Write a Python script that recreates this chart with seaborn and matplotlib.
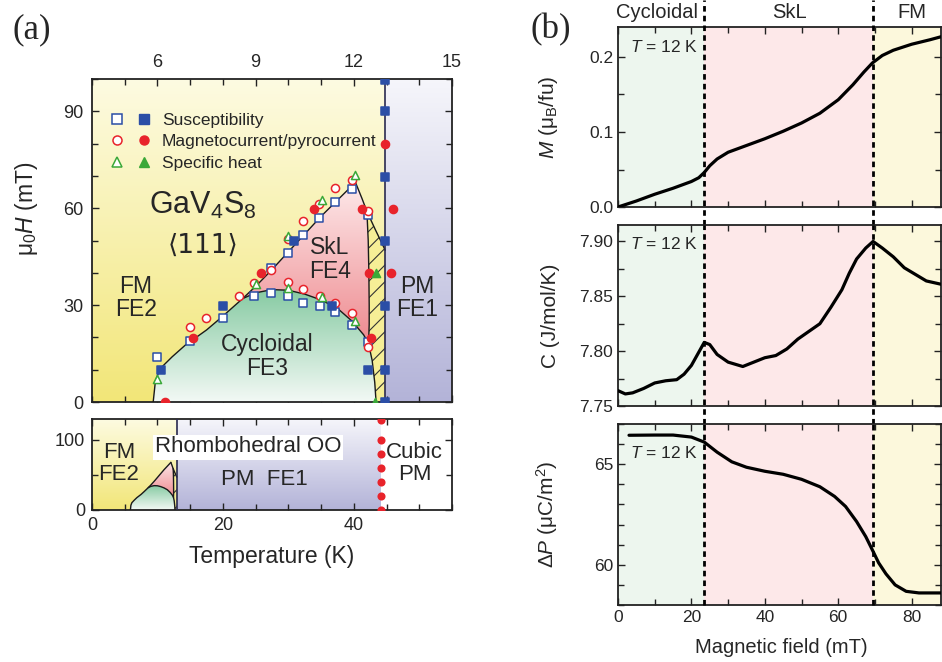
import numpy as np
import matplotlib
matplotlib.use('Agg')
import matplotlib.pyplot as plt
import seaborn as sns
from matplotlib.patches import Polygon
from matplotlib.colors import LinearSegmentedColormap
from matplotlib.lines import Line2D
from matplotlib.legend_handler import HandlerTuple
from matplotlib.ticker import MultipleLocator

sns.set_theme(style='ticks')
plt.rcParams['font.family'] = ['Liberation Sans', 'DejaVu Sans']
plt.rcParams['mathtext.fontset'] = 'custom'
plt.rcParams['mathtext.rm'] = 'Liberation Sans'
plt.rcParams['mathtext.it'] = 'Liberation Sans:italic'
plt.rcParams['mathtext.bf'] = 'Liberation Sans:bold'
plt.rcParams['hatch.linewidth'] = 0.8

# ---------------- data: panel (a) phase boundaries ----------------
cyc_T = [5.87, 5.94, 6.09, 6.45, 6.85, 7.5, 8.0, 8.6, 9.0, 9.5, 10.0, 10.5, 11.0, 11.5, 11.95, 12.3, 12.45, 12.56, 12.64, 12.68]
cyc_H = [0.0, 6.7, 10.4, 14.0, 17.6, 22.3, 26.6, 32.0, 33.8, 34.8, 34.6, 33.4, 31.6, 29.0, 25.0, 20.8, 18.0, 12.9, 6.0, 0.0]
skl_top_T = [8.6, 9.0, 9.5, 10.0, 10.5, 11.0, 11.5, 12.05]
skl_top_H = [32.0, 35.8, 41.0, 46.5, 52.0, 57.5, 62.5, 68.0]
skl_right_T = [12.05, 12.25, 12.40, 12.44, 12.46, 12.47, 12.47, 12.45]
skl_right_H = [68.0, 63.0, 59.0, 50.0, 40.0, 30.0, 24.0, 18.0]
hatch_T = [12.40, 12.66, 12.96]
hatch_H = [59.0, 53.3, 47.0]
T_pm = 12.96
T_cubic = 44.2

# ---------------- data: panel (a) markers ----------------
sus_open_T = [6.0, 6.99, 8.0, 8.96, 9.47, 9.98, 9.47, 9.98, 10.45, 10.94, 11.44, 11.95, 10.45, 10.96, 11.44, 11.95, 12.44, 12.44]
sus_open_H = [13.8, 18.8, 25.9, 32.8, 33.6, 32.8, 41.6, 46.0, 51.7, 56.9, 61.8, 65.9, 30.7, 29.7, 27.9, 23.8, 18.6, 57.9]
sus_fill_T = [6.1, 8.0, 10.18, 11.34, 12.44, 12.94, 12.94, 12.94, 12.94, 12.94, 12.94, 12.94]
sus_fill_H = [9.8, 29.8, 49.9, 29.8, 9.8, 99.8, 90.0, 69.8, 49.9, 29.8, 9.8, 0.0]
mc_open_T = [6.99, 7.48, 8.49, 8.96, 9.47, 9.98, 10.45, 10.94, 11.44, 11.95, 9.98, 10.45, 10.96, 11.44, 11.95, 12.44, 12.44]
mc_open_H = [23.1, 25.9, 32.9, 36.9, 40.9, 50.4, 55.9, 61.2, 66.2, 68.8, 37.0, 34.9, 32.9, 30.5, 27.6, 17.1, 59.0]
mc_fill_T = [6.23, 7.09, 9.17, 10.79, 12.25, 12.46, 12.51, 12.94, 13.19, 13.14]
mc_fill_H = [0.0, 19.9, 39.8, 59.7, 59.7, 39.8, 19.9, 79.9, 59.7, 39.8]
sh_open_T = [6.0, 9.02, 10.0, 10.0, 11.04, 11.04, 12.03, 12.03]
sh_open_H = [7.2, 36.4, 51.4, 35.2, 62.6, 32.6, 70.3, 25.0]
sh_fill_T = [12.69, 12.66]
sh_fill_H = [40.0, 0.0]
cubic_H = [0, 20, 40, 60, 80, 100, 128]

# ---------------- data: panel (b) ----------------
Hc1, Hc2 = 23.5, 69.4
M_H = [0, 5, 10, 15, 20, 22, 23.5, 25, 27, 30, 35, 40, 45, 50, 55, 60, 64, 67, 69.3, 72, 75, 80, 85, 88]
M_val = [0.0, 0.008, 0.017, 0.025, 0.034, 0.039, 0.046, 0.055, 0.064, 0.073, 0.082, 0.091, 0.101, 0.112, 0.125, 0.143, 0.163, 0.180, 0.192, 0.202, 0.209, 0.217, 0.223, 0.227]
C_H = [0, 2, 4, 7, 10, 13, 16, 18, 20, 22, 23.5, 25, 27, 30, 34, 37, 40, 43, 46, 49, 52, 55, 58, 61, 63, 65, 67.5, 69.5, 72, 75, 78, 81, 84, 88]
C_val = [7.764, 7.761, 7.762, 7.766, 7.771, 7.773, 7.774, 7.779, 7.787, 7.799, 7.808, 7.806, 7.797, 7.790, 7.786, 7.790, 7.794, 7.796, 7.802, 7.811, 7.818, 7.825, 7.840, 7.856, 7.871, 7.884, 7.894, 7.900, 7.894, 7.886, 7.876, 7.870, 7.864, 7.861]
P_H = [3, 10, 15, 20, 23.5, 27, 31, 35, 40, 45, 50, 55, 59, 62, 65, 67.5, 69.4, 71, 73, 75.5, 78.5, 82, 88]
P_val = [66.44, 66.45, 66.45, 66.35, 66.10, 65.6, 65.12, 64.85, 64.65, 64.5, 64.25, 63.88, 63.4, 62.9, 62.15, 61.4, 60.7, 60.1, 59.55, 59.0, 58.68, 58.6, 58.6]

BLUE = '#2b4ea6'
RED = '#e8232b'
GREEN = '#3aa838'
EDGE = '#222222'

W, HH = 942, 662
fig = plt.figure(figsize=(W / 100, HH / 100), dpi=100)


def rect(l, t, r, b):
    return [l / W, 1 - b / HH, (r - l) / W, (b - t) / HH]


ax1 = fig.add_axes(rect(92, 79, 452, 402))
ax2 = fig.add_axes(rect(92, 419, 452, 510))
bx1 = fig.add_axes(rect(618, 27, 941, 207))
bx2 = fig.add_axes(rect(618, 225, 941, 406))
bx3 = fig.add_axes(rect(618, 424, 941, 605))


def grad_fill(ax, verts, c_top, c_bot, y0, y1, z=1):
    xs = [v[0] for v in verts]
    poly = Polygon(verts, closed=True, facecolor='none', edgecolor='none', transform=ax.transData)
    ax.add_patch(poly)
    cmap = LinearSegmentedColormap.from_list('g', [c_bot, c_top])
    grad = np.linspace(0, 1, 256).reshape(-1, 1)
    im = ax.imshow(grad, extent=[min(xs), max(xs), y0, y1], origin='lower', aspect='auto',
                   cmap=cmap, zorder=z, interpolation='bilinear')
    im.set_clip_path(poly)


def phase_shapes(ax, xmin, xmax, ymax, cubic=None):
    right = cubic if cubic is not None else xmax
    grad_fill(ax, [(xmin, 0), (xmin, ymax), (T_pm, ymax), (T_pm, 0)], '#fdfbe2', '#f2e678', 0, ymax, 0.5)
    grad_fill(ax, [(T_pm, 0), (T_pm, ymax), (right, ymax), (right, 0)], '#f6f6fb', '#b3b3d8', 0, ymax, 0.5)
    cyc = list(zip(cyc_T, cyc_H))
    grad_fill(ax, cyc, '#86caa2', '#f3f9f5', 0, 35, 1)
    i0 = cyc_T.index(8.6)
    i1 = cyc_T.index(12.45)
    skl = list(zip(skl_top_T, skl_top_H)) + list(zip(skl_right_T[1:], skl_right_H[1:])) + \
        list(zip(cyc_T[i1 - 1:i0:-1], cyc_H[i1 - 1:i0:-1]))
    grad_fill(ax, skl, '#fde9ea', '#ee8a8f', 18, 68, 1)
    hv = list(zip(hatch_T, hatch_H)) + [(T_pm, 0)] + list(zip(cyc_T[:i1:-1], cyc_H[:i1:-1])) + \
        list(zip(skl_right_T[:1:-1], skl_right_H[:1:-1]))
    ax.add_patch(Polygon(hv, closed=True, facecolor='#f6ee96', edgecolor='#333333', lw=0,
                         hatch='//', zorder=1.5))
    lw = 1.0
    ax.plot(cyc_T, cyc_H, color='#1a1a1a', lw=lw, zorder=3)
    ax.plot(skl_top_T, skl_top_H, color='#1a1a1a', lw=lw, zorder=3)
    ax.plot(skl_right_T, skl_right_H, color='#1a1a1a', lw=lw, zorder=3)
    ax.plot(hatch_T, hatch_H, color='#1a1a1a', lw=lw, zorder=3)
    ax.plot([T_pm, T_pm], [0, ymax], color='#2a2a50', lw=1.2, zorder=3)


def style_axes(ax):
    for s in ax.spines.values():
        s.set_color(EDGE)
        s.set_linewidth(1.3)
    ax.tick_params(which='both', direction='in', top=True, right=True, color=EDGE, width=1.0)
    ax.tick_params(which='major', length=5)
    ax.tick_params(which='minor', length=4)


# ---------------- panel (a) main ----------------
phase_shapes(ax1, 4, 15, 100)
mk = dict(s=34, linewidth=1.1, zorder=5, legend=False)
sns.scatterplot(x=sus_open_T, y=sus_open_H, marker='s', facecolor='white', edgecolor=BLUE, ax=ax1, **mk)
sns.scatterplot(x=mc_open_T, y=mc_open_H, marker='o', facecolor='white', edgecolor=RED, ax=ax1, **mk)
sns.scatterplot(x=sh_open_T, y=sh_open_H, marker='^', facecolor='white', edgecolor=GREEN, ax=ax1, **mk)
sns.scatterplot(x=mc_fill_T, y=mc_fill_H, marker='o', color=RED, edgecolor=RED, ax=ax1, **mk)
sns.scatterplot(x=sus_fill_T, y=sus_fill_H, marker='s', color=BLUE, edgecolor=BLUE, ax=ax1, **mk)
sns.scatterplot(x=sh_fill_T, y=sh_fill_H, marker='^', color=GREEN, edgecolor=GREEN, ax=ax1, **mk)
for c in ax1.collections:
    c.set_clip_on(True)
ax1.set_xlim(4, 15)
ax1.set_ylim(0, 100)
style_axes(ax1)
ax1.xaxis.set_major_locator(MultipleLocator(3))
ax1.xaxis.set_minor_locator(MultipleLocator(1))
ax1.yaxis.set_major_locator(MultipleLocator(30))
ax1.yaxis.set_minor_locator(MultipleLocator(10))
ax1.tick_params(labelbottom=False, labeltop=True, labelsize=13, pad=6)
ax1.set_xticks([6, 9, 12, 15])
ax1.set_ylabel('μ$_0$$H$ (mT)', fontsize=16.5)
ax1.yaxis.set_label_coords(-0.145, 0.6)

ms = 6.5
leg_handles = [
    (Line2D([], [], marker='s', ls='none', mfc='white', mec=BLUE, mew=1.1, ms=ms),
     Line2D([], [], marker='s', ls='none', mfc=BLUE, mec=BLUE, ms=ms)),
    (Line2D([], [], marker='o', ls='none', mfc='white', mec=RED, mew=1.1, ms=ms),
     Line2D([], [], marker='o', ls='none', mfc=RED, mec=RED, ms=ms)),
    (Line2D([], [], marker='^', ls='none', mfc='white', mec=GREEN, mew=1.1, ms=ms),
     Line2D([], [], marker='^', ls='none', mfc=GREEN, mec=GREEN, ms=ms)),
]
leg = ax1.legend(leg_handles, ['Susceptibility', 'Magnetocurrent/pyrocurrent', 'Specific heat'],
                 handler_map={tuple: HandlerTuple(ndivide=None, pad=0.9)},
                 loc='upper left', bbox_to_anchor=(0.035, 0.918), frameon=False, fontsize=12.5,
                 handlelength=2.2, handletextpad=0.7, labelspacing=0.37, borderaxespad=0)
leg.set_zorder(7)

ax1.text(7.39, 61, 'GaV$_4$S$_8$', fontsize=22, ha='center', va='center', zorder=6)
ax1.text(7.39, 48.5, '⟨111⟩', fontsize=19, ha='center', va='center', zorder=6,
         family=['DejaVu Sans'])
ax1.text(5.34, 32.2, 'FM\nFE2', fontsize=16.5, ha='center', va='center', linespacing=1.05, zorder=6)
ax1.text(11.27, 44, 'SkL\nFE4', fontsize=16.5, ha='center', va='center', linespacing=1.05, zorder=6)
ax1.text(9.35, 14.2, 'Cycloidal\nFE3', fontsize=16.5, ha='center', va='center', linespacing=1.05, zorder=6)
ax1.text(13.93, 32.2, 'PM\nFE1', fontsize=16.5, ha='center', va='center', linespacing=1.05, zorder=6)

# ---------------- panel (a) lower ----------------
phase_shapes(ax2, 0, 55, 130, cubic=T_cubic)
sns.scatterplot(x=[T_cubic] * len(cubic_H), y=cubic_H, marker='o', color=RED, edgecolor=RED,
                s=34, linewidth=0, zorder=5, legend=False, ax=ax2)
ax2.set_xlim(0, 55)
ax2.set_ylim(0, 130)
style_axes(ax2)
ax2.xaxis.set_major_locator(MultipleLocator(20))
ax2.xaxis.set_minor_locator(MultipleLocator(5))
ax2.yaxis.set_major_locator(MultipleLocator(100))
ax2.yaxis.set_minor_locator(MultipleLocator(50))
ax2.tick_params(labelsize=13, pad=5)
ax2.set_xlabel('Temperature (K)', fontsize=16.5)
ax2.xaxis.set_label_coords(0.5, -0.38)
ax2.text(4.1, 67, 'FM\nFE2', fontsize=16, ha='center', va='center', linespacing=1.05, zorder=6)
ax2.text(23.8, 90, 'Rhombohedral OO', fontsize=16, ha='center', va='center', zorder=6,
         bbox=dict(facecolor='white', edgecolor='none', pad=1.5))
ax2.text(26.4, 43, 'PM  FE1', fontsize=16, ha='center', va='center', zorder=6)
ax2.text(49.3, 67, 'Cubic\nPM', fontsize=16, ha='center', va='center', linespacing=1.05, zorder=6)

# ---------------- panel (b) ----------------
spans = [(0, Hc1, '#edf6ee'), (Hc1, Hc2, '#fde8e9'), (Hc2, 88, '#fcf8dc')]
for ax, H, V in [(bx1, M_H, M_val), (bx2, C_H, C_val), (bx3, P_H, P_val)]:
    for a, b, c in spans:
        ax.axvspan(a, b, color=c, lw=0, zorder=0)
    sns.lineplot(x=H, y=V, color='black', lw=2.3, ax=ax, zorder=4)
    ax.set_xlim(0, 88)
    style_axes(ax)
    ax.xaxis.set_major_locator(MultipleLocator(20))
    ax.xaxis.set_minor_locator(MultipleLocator(10))
    ax.tick_params(labelsize=12.5)
    ax.set_xlabel('')

bx1.set_ylim(0, 0.24)
bx1.yaxis.set_major_locator(MultipleLocator(0.1))
bx1.yaxis.set_minor_locator(MultipleLocator(0.05))
bx1.yaxis.set_major_formatter(matplotlib.ticker.FormatStrFormatter('%.1f'))
bx2.set_ylim(7.75, 7.915)
bx2.yaxis.set_major_locator(MultipleLocator(0.05))
bx2.yaxis.set_minor_locator(MultipleLocator(0.025))
bx2.yaxis.set_major_formatter(matplotlib.ticker.FormatStrFormatter('%.2f'))
bx3.set_ylim(58, 67)
bx3.yaxis.set_major_locator(MultipleLocator(5))
bx3.yaxis.set_minor_locator(MultipleLocator(1))
bx1.tick_params(labelbottom=False)
bx2.tick_params(labelbottom=False)

bx1.set_ylabel('$M$ (μ$_\\mathrm{B}$/fu)', fontsize=15)
bx2.set_ylabel('C (J/mol/K)', fontsize=15)
bx3.set_ylabel('Δ$P$ (μC/m$^2$)', fontsize=15)
for ax in (bx1, bx2, bx3):
    ax.yaxis.set_label_coords(-0.18, 0.5)
bx3.set_xlabel('Magnetic field (mT)', fontsize=14.5)
bx3.xaxis.set_label_coords(0.506, -0.185)

for ax, y in [(bx1, 0.89), (bx2, 0.895), (bx3, 0.84)]:
    ax.text(0.037, y, '$T$ = 12 K', transform=ax.transAxes, fontsize=12.5, va='center', ha='left', zorder=6)

dash = (0, (2.0, 1.5))
for x in (Hc1, Hc2):
    bx1.axvline(x, ymin=-0.1, ymax=1.15, color='black', lw=2.0, ls=dash, clip_on=False, zorder=5)
    bx2.axvline(x, ymin=-0.1, ymax=1.0, color='black', lw=2.0, ls=dash, clip_on=False, zorder=5)
    bx3.axvline(x, ymin=0, ymax=1.0, color='black', lw=2.0, ls=dash, clip_on=False, zorder=5)

for lab, xv in [('Cycloidal', 10.6), ('SkL', 46.8), ('FM', 80.0)]:
    bx1.text(xv, 1.078, lab, transform=bx1.get_xaxis_transform(), fontsize=14.5, ha='center', va='center')

fig.text(32 / W, 1 - 30 / HH, '(a)', fontsize=25, family='Liberation Serif', ha='center', va='center')
fig.text(551 / W, 1 - 30 / HH, '(b)', fontsize=25, family='Liberation Serif', ha='center', va='center')

fig.savefig('out.png', dpi=100)
